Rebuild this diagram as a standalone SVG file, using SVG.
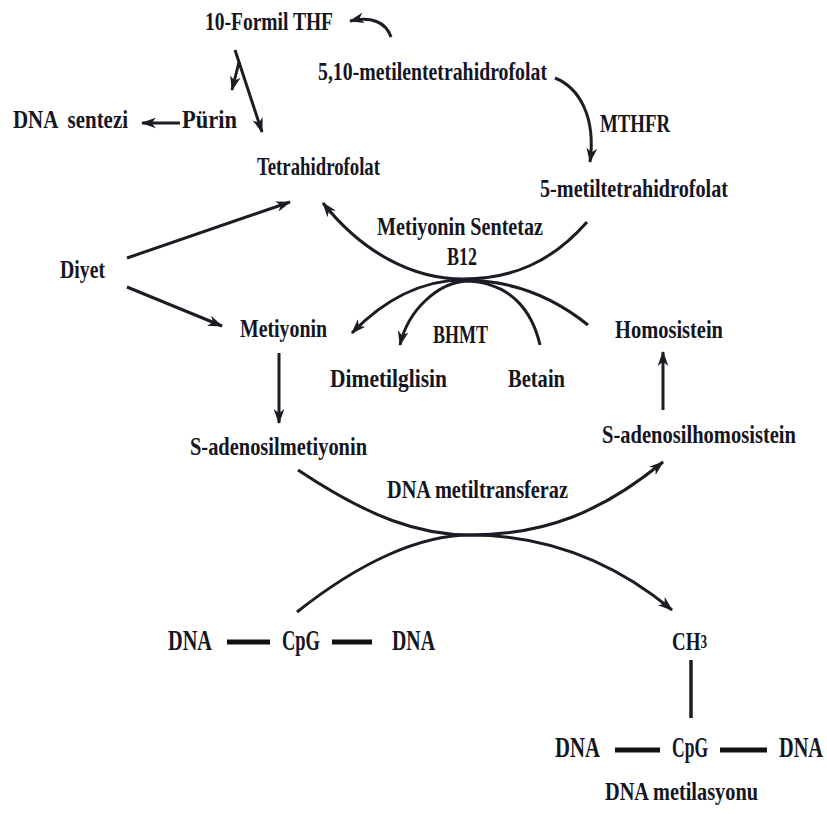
<svg xmlns="http://www.w3.org/2000/svg" width="827" height="814" viewBox="0 0 827 814">
<style>
text{font-family:"Liberation Serif","Times New Roman",serif;font-weight:bold;font-size:26px;fill:#15151f}
.big{font-size:29px}
.c{fill:none;stroke:#1c1c24;stroke-width:3}
.ca{fill:none;stroke:#1c1c24;stroke-width:3;marker-end:url(#ah)}
.bar{stroke:#111;stroke-width:5}
</style>
<defs>
<marker id="ah" viewBox="0 0 14 10" refX="13" refY="5" markerWidth="15" markerHeight="11" markerUnits="userSpaceOnUse" orient="auto">
<path d="M0,0 L14,5 L0,10 L4,5 z" fill="#1c1c24"/>
</marker>
</defs>
<rect width="827" height="814" fill="#fff"/>
<g id="connectors">
<path class="ca" d="M391,37 C386,22 371,16 350,21"/>
<path class="ca" d="M235,50 L262,132"/>
<path class="ca" d="M239,62 L232,90"/>
<path class="ca" d="M180,123 L142,123"/>
<path class="ca" d="M555,78 C580,88 596,118 590,162"/>
<path class="ca" d="M127,258 L290,202"/>
<path class="ca" d="M127,287 L222,326"/>
<path class="ca" d="M279,353 L279,423"/>
<path class="ca" d="M663,410 L663,352"/>
<path class="ca" d="M587,222 C552,262 512,279 463,279 C412,279 362,252 323,203"/>
<path class="ca" d="M588,325 C552,296 512,280 463,280 C420,280 382,302 352,333"/>
<path class="ca" d="M540,345 C532,310 510,283 468,281 C438,282 408,310 400,345"/>
<path class="ca" d="M298,470 C370,518 420,535 470,535 C545,535 602,512 663,462"/>
<path class="ca" d="M297,612 C360,562 420,535 470,535 C545,535 612,560 672,610"/>
<line class="bar" x1="227" y1="642" x2="270" y2="642"/>
<line class="bar" x1="332" y1="642" x2="372" y2="642"/>
<line class="bar" x1="615" y1="750" x2="660" y2="750"/>
<line class="bar" x1="720" y1="750" x2="767" y2="750"/>
<line class="c" x1="691" y1="660" x2="691" y2="718" style="stroke-width:3.5"/>
</g>
<g id="formil"><text x="205" y="30" textLength="128" lengthAdjust="spacingAndGlyphs">10-Formil THF</text></g>
<g id="metilen"><text x="318" y="80" textLength="229" lengthAdjust="spacingAndGlyphs">5,10-metilentetrahidrofolat</text></g>
<g id="dnasentezi"><text x="13" y="128" textLength="115" lengthAdjust="spacingAndGlyphs" xml:space="preserve">DNA  sentezi</text></g>
<g id="purin"><text x="182" y="128" textLength="55" lengthAdjust="spacingAndGlyphs">Pürin</text></g>
<g id="thf"><text x="257" y="175" textLength="123" lengthAdjust="spacingAndGlyphs">Tetrahidrofolat</text></g>
<g id="mthfr"><text x="600" y="132" textLength="70" lengthAdjust="spacingAndGlyphs">MTHFR</text></g>
<g id="metilthf"><text x="540" y="197" textLength="188" lengthAdjust="spacingAndGlyphs">5-metiltetrahidrofolat</text></g>
<g id="ms"><text x="377" y="235" textLength="166" lengthAdjust="spacingAndGlyphs">Metiyonin Sentetaz</text><text x="447" y="265" textLength="30" lengthAdjust="spacingAndGlyphs">B12</text></g>
<g id="diyet"><text x="60" y="278" textLength="45" lengthAdjust="spacingAndGlyphs">Diyet</text></g>
<g id="metiyonin"><text x="240" y="337" textLength="87" lengthAdjust="spacingAndGlyphs">Metiyonin</text></g>
<g id="bhmt"><text x="433" y="343" textLength="55" lengthAdjust="spacingAndGlyphs">BHMT</text></g>
<g id="homosistein"><text x="615" y="338" textLength="108" lengthAdjust="spacingAndGlyphs">Homosistein</text></g>
<g id="dimetilglisin"><text x="330" y="387" textLength="117" lengthAdjust="spacingAndGlyphs">Dimetilglisin</text></g>
<g id="betain"><text x="508" y="387" textLength="57" lengthAdjust="spacingAndGlyphs">Betain</text></g>
<g id="sam"><text x="190" y="455" textLength="177" lengthAdjust="spacingAndGlyphs">S-adenosilmetiyonin</text></g>
<g id="sah"><text x="602" y="443" textLength="194" lengthAdjust="spacingAndGlyphs">S-adenosilhomosistein</text></g>
<g id="dnmt"><text x="387" y="498" textLength="181" lengthAdjust="spacingAndGlyphs">DNA metiltransferaz</text></g>
<g id="dna1"><text class="big" x="168" y="650" textLength="44" lengthAdjust="spacingAndGlyphs">DNA</text></g>
<g id="cpg1"><text class="big" x="282" y="650" textLength="38" lengthAdjust="spacingAndGlyphs">CpG</text></g>
<g id="dna2"><text class="big" x="392" y="650" textLength="43" lengthAdjust="spacingAndGlyphs">DNA</text></g>
<g id="ch3"><text x="672" y="650" textLength="35" lengthAdjust="spacingAndGlyphs">CH<tspan style="font-size:18px" dy="-2">3</tspan></text></g>
<g id="dna3"><text class="big" x="555" y="757" textLength="45" lengthAdjust="spacingAndGlyphs">DNA</text></g>
<g id="cpg2"><text class="big" x="672" y="757" textLength="36" lengthAdjust="spacingAndGlyphs">CpG</text></g>
<g id="dna4"><text class="big" x="779" y="757" textLength="44" lengthAdjust="spacingAndGlyphs">DNA</text></g>
<g id="metilasyon"><text x="605" y="800" textLength="153" lengthAdjust="spacingAndGlyphs">DNA metilasyonu</text></g>
</svg>
